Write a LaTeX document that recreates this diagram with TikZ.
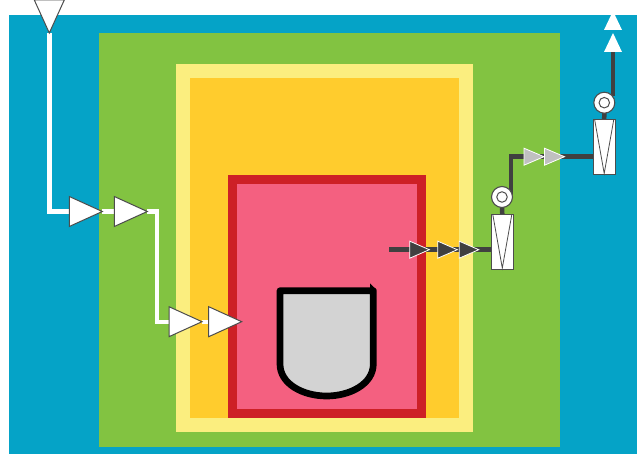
\documentclass[tikz,border=0pt]{standalone}
\usetikzlibrary{shapes.geometric}
\definecolor{cblue}{HTML}{05A3C7}
\definecolor{cgreen}{HTML}{82C341}
\definecolor{clight}{HTML}{FBEE7F}
\definecolor{corange}{HTML}{FFCC2D}
\definecolor{cred}{HTML}{CD2026}
\definecolor{cpink}{HTML}{F46080}
\definecolor{cgrey}{HTML}{D3D3D3}
\definecolor{cdark}{HTML}{404040}
\definecolor{cout}{HTML}{4D4D4D}
\definecolor{ctri}{HTML}{C0C0C0}
\pgfdeclarelayer{panels}
\pgfdeclarelayer{lines}
\pgfsetlayers{panels,lines,main}
\tikzset{
  tri/.style={isosceles triangle,isosceles triangle stretches,inner sep=0pt,outer sep=0pt,anchor=apex},
  bigtri/.style={tri,minimum width=30pt,minimum height=33pt,fill=white,draw=cout,line width=1pt},
  downtri/.style={bigtri,shape border rotate=-90},
  darktri/.style={tri,minimum width=17pt,minimum height=19.5pt,fill=cdark,draw=white,line width=.8pt},
  greytri/.style={tri,minimum width=17pt,minimum height=20pt,fill=ctri,draw=white,line width=.8pt},
  outtri/.style={tri,minimum width=18pt,minimum height=19pt,fill=white,shape border rotate=90},
  whiteline/.style={draw=white,line width=4.4pt,line join=miter},
  darkline/.style={draw=cdark,line width=4.5pt,line join=miter},
  column/.style={draw=cout,fill=white,line width=1pt,minimum width=22pt,minimum height=54.5pt,inner sep=0pt,outer sep=0pt},
  pump/.style={circle,draw=cout,fill=white,line width=1.1pt,minimum size=21pt,inner sep=0pt,outer sep=0pt},
  pumpeye/.style={circle,draw=cout,fill=white,line width=1pt,minimum size=10.5pt,inner sep=0pt},
  vee/.style={draw=cout,line width=.8pt},
}
\begin{document}
\begin{tikzpicture}[x=1pt,y=-1pt]
\useasboundingbox (0,0) rectangle (637,454);
\begin{pgfonlayer}{panels}
\fill[cblue] (9,15) rectangle (637,454);
\fill[cgreen] (99,33) rectangle (560,447);
\fill[clight] (176,64) rectangle (473,432);
\fill[corange] (190,78) rectangle (459,418);
\fill[cred] (228,175) rectangle (426,418);
\fill[cpink] (237,184) rectangle (417,409);
\end{pgfonlayer}
% vessel
\path[fill=cgrey,draw=black,line width=6.7pt,line join=round]
  (280,290.7) -- (373.3,290.7) -- (373.3,364)
  .. controls (373.3,384) and (350,396) .. (326.6,396)
  .. controls (303,396) and (280,384) .. (280,364) -- cycle;
\fill[black] (370,283.3) -- (376.7,290) -- (370,292) -- cycle;
% triangles
\node[downtri] (t0) at (49.3,33) {};
\node[bigtri] (t1) at (102.3,211.5) {};
\node[bigtri] (t2) at (147.3,211.5) {};
\node[bigtri] (t3) at (202,321.7) {};
\node[bigtri] (t4) at (241.7,321.7) {};
% columns and pumps
\node[column] (c1) at (502.3,241.8) {};
\node[column] (c2) at (604.2,147.2) {};
\node[pump] (p1) at (502,197) {};
\node[pump] (p2) at (604.3,102.7) {};
\node[pumpeye] (e1) at (p1.center) {};
\node[pumpeye] (e2) at (p2.center) {};
\draw[vee] ([xshift=1.5pt]c1.north west) -- ([yshift=1pt]c1.south) -- ([xshift=-1.5pt]c1.north east);
\draw[vee] ([xshift=1.5pt]c2.north west) -- ([yshift=1pt]c2.south) -- ([xshift=-1.5pt]c2.north east);
\node[darktri] (d1) at (429.3,249.7) {};
\node[darktri] (d2) at (457.3,249.7) {};
\node[darktri] (d3) at (478.7,249.7) {};
\node[greytri] (g1) at (544,156.7) {};
\node[greytri] (g2) at (564.5,156.7) {};
\node[outtri] (o1) at (613,33) {};
\node[outtri] (o2) at (613,11) {};
\coordinate (in0) at (389,249.7);
\coordinate (top2) at (613,52);
% connectors
\begin{pgfonlayer}{lines}
\draw[whiteline] (t0.apex) |- (t1.west);
\draw[whiteline] (t1.apex) -- (t2.west);
\draw[whiteline] (t2.apex) -| (157,321.7) -- (t3.west);
\draw[whiteline] (t3.apex) -- (t4.west);
\draw[darkline] (in0) -- (c1.west |- in0);
\draw[darkline] ([shift={(9,-2)}]p1.center) |- (c2.west |- g1.apex);
\draw[darkline] (p1.south) -- (c1.north);
\draw[darkline] (p2.south) -- (c2.north);
\draw[darkline] ([shift={(8.7,-7)}]p2.center) -- (top2);
\end{pgfonlayer}
\end{tikzpicture}
\end{document}
